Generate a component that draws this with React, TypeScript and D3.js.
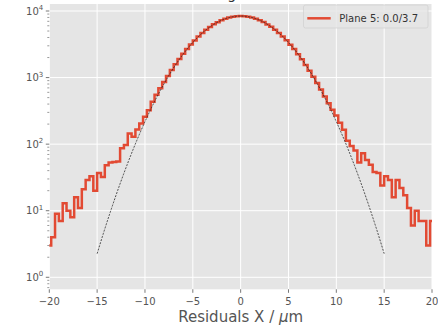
import React from "react";
import * as d3 from "d3";

// ---- data ----
const BIN_WIDTH = 0.4;
const FIRST_CENTER = -20.4;
const COUNTS: number[] = [
  7, 3, 4, 9, 7, 13, 10, 8, 16, 11, 21, 29, 33, 20, 37, 32, 48, 53, 54, 55, 87, 97, 145, 129, 166, 205, 258, 324, 434,
  550, 690, 860, 1060, 1300, 1580, 1900, 2270, 2680, 3140, 3610, 4150, 4670, 5240, 5770, 6320, 6790, 7270, 7640, 7980, 8190, 8360,
  8400,
  8340, 8220, 7960, 7660, 7240, 6820, 6290, 5790, 5220, 4690, 4130, 3630, 3120, 2680, 2250, 1890, 1550, 1270, 1030, 830, 660, 520,
  410, 330, 270, 210, 165, 112, 94, 80, 53, 73, 58, 49, 38, 37, 24, 33, 29, 16, 29, 22, 17, 11, 6, 10, 7, 7, 3, 7, 12,
];
const FIT_AMP = 8400;
const FIT_MEAN = 0.0;
const FIT_SIGMA = 3.7;
const FIT_RANGE = [-15, 15];
const X_TICKS = [-20, -15, -10, -5, 0, 5, 10, 15, 20];
const Y_MAJOR = [1, 10, 100, 1000, 10000];
const LEGEND_LABEL = "Plane 5: 0.0/3.7";
const TITLE = "Tracking residuals";

const W = 438, H = 329;
const L = 49.3, R = 432, T = 4, B = 289.3;

export default function App() {
  const x = d3.scaleLinear().domain([-20, 20]).range([L, R]);
  const y = d3.scaleLog().domain([0.66, 12740]).range([B, T]);

  const pts: [number, number][] = [];
  COUNTS.forEach((c, i) => {
    const center = FIRST_CENTER + i * BIN_WIDTH;
    pts.push([center - BIN_WIDTH / 2, c]);
    pts.push([center + BIN_WIDTH / 2, c]);
  });
  const histLine = d3.line<[number, number]>().x((d) => x(d[0])).y((d) => y(d[1]));

  const fitPts: [number, number][] = d3
    .range(FIT_RANGE[0], FIT_RANGE[1] + 0.001, 0.05)
    .map((v) => [v, FIT_AMP * Math.exp(-((v - FIT_MEAN) ** 2) / (2 * FIT_SIGMA * FIT_SIGMA))]);

  const minor: number[] = [];
  for (let k = -1; k <= 4; k++) {
    for (let m = 2; m <= 9; m++) {
      const v = m * Math.pow(10, k);
      if (v >= 0.66 && v <= 12740) minor.push(v);
    }
  }

  const font = "DejaVu Sans, sans-serif";
  const tickColor = "#555555";

  return (
    <svg width={W} height={H} style={{ position: "absolute", left: 0, top: 0, background: "#ffffff" }} fontFamily={font}>
      <defs>
        <clipPath id="plotclip">
          <rect x={L} y={T} width={R - L} height={B - T} />
        </clipPath>
      </defs>
      <text x={(L + R) / 2} y={-1} textAnchor="middle" fontSize={14} fill="#333">{TITLE}</text>
      <rect x={L} y={T} width={R - L} height={B - T} fill="#E5E5E5" />
      {X_TICKS.map((t) => (
        <line key={"gx" + t} x1={x(t)} x2={x(t)} y1={T} y2={B} stroke="#fff" strokeWidth={1} />
      ))}
      {Y_MAJOR.map((t) => (
        <line key={"gy" + t} x1={L} x2={R} y1={y(t)} y2={y(t)} stroke="#fff" strokeWidth={1} />
      ))}
      <g clipPath="url(#plotclip)">
        <path d={histLine(pts) || ""} fill="none" stroke="#E24A33" strokeWidth={2.5} strokeLinejoin="miter" />
        <path d={histLine(fitPts) || ""} fill="none" stroke="#222" strokeWidth={0.8} strokeDasharray="2,1.3" />
      </g>
      {X_TICKS.map((t) => (
        <g key={"xt" + t}>
          <line x1={x(t)} x2={x(t)} y1={B} y2={B + 3.5} stroke={tickColor} strokeWidth={0.8} />
          <text x={x(t)} y={B + 16} textAnchor="middle" fontSize={10} fill={tickColor}>
            {t < 0 ? "\u2212" + Math.abs(t) : String(t)}
          </text>
        </g>
      ))}
      {Y_MAJOR.map((t) => (
        <g key={"yt" + t}>
          <line x1={L - 3.5} x2={L} y1={y(t)} y2={y(t)} stroke={tickColor} strokeWidth={0.8} />
          <text x={L - 6} y={y(t) + 3.5} textAnchor="end" fontSize={10} fill={tickColor}>
            10<tspan dy={-4.5} fontSize={7}>{String(Math.round(Math.log10(t)))}</tspan>
          </text>
        </g>
      ))}
      {minor.map((t) => (
        <line key={"ym" + t} x1={L - 2} x2={L} y1={y(t)} y2={y(t)} stroke={tickColor} strokeWidth={0.6} />
      ))}
      <text x={(L + R) / 2} y={322} textAnchor="middle" fontSize={15} fill={tickColor}>
        Residuals X / <tspan fontStyle="italic">μ</tspan>m
      </text>
      <g>
        <rect x={303.5} y={5} width={124.5} height={23} rx={2} fill="#E5E5E5" fillOpacity={0.8} stroke="#CCCCCC" strokeOpacity={0.8} strokeWidth={0.8} />
        <line x1={307.3} x2={330.7} y1={18.3} y2={18.3} stroke="#E24A33" strokeWidth={2.5} />
        <text x={339.3} y={22} fontSize={10} fill="#333">{LEGEND_LABEL}</text>
      </g>
    </svg>
  );
}
